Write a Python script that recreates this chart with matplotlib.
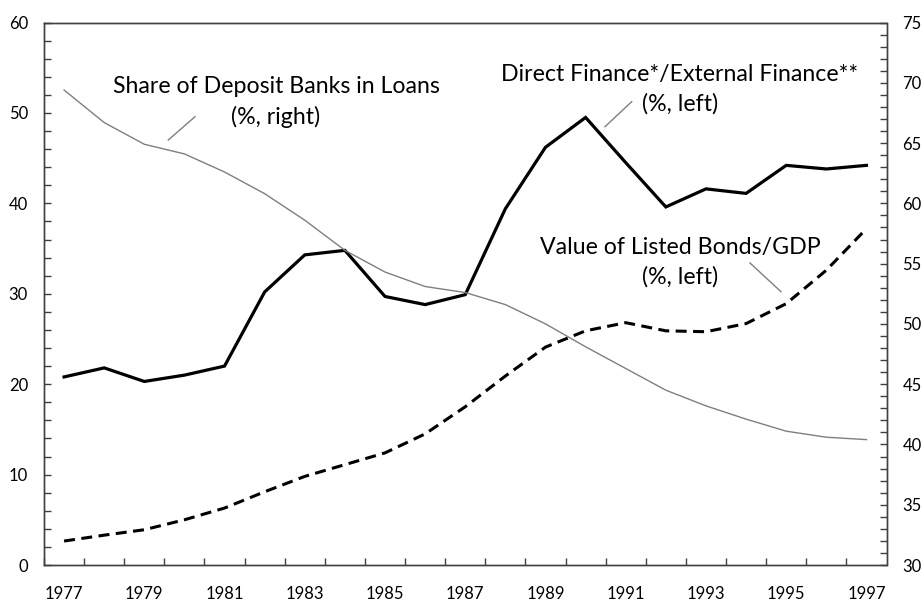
import matplotlib
matplotlib.use("Agg")
import matplotlib.pyplot as plt
from matplotlib.ticker import MultipleLocator, FixedLocator

plt.rcParams['font.family'] = ['Lato', 'DejaVu Sans']

years = list(range(1977, 1998))
direct_finance = [20.8, 21.8, 20.3, 21.0, 22.0, 30.2, 34.3, 34.8, 29.7, 28.8, 29.9,
                  39.4, 46.2, 49.5, 44.5, 39.6, 41.6, 41.1, 44.2, 43.8, 44.2]
listed_bonds = [2.65, 3.3, 3.9, 5.0, 6.3, 8.1, 9.8, 11.1, 12.4, 14.5, 17.5,
                20.9, 24.1, 25.9, 26.8, 25.9, 25.8, 26.7, 28.9, 32.6, 37.2]
deposit_share = [69.4, 66.7, 64.9, 64.1, 62.6, 60.8, 58.6, 56.1, 54.3, 53.1, 52.6,
                 51.6, 50.0, 48.1, 46.3, 44.5, 43.2, 42.1, 41.1, 40.6, 40.4]
xtick_labels = [str(y) for y in range(1977, 1998, 2)]

W, H = 921, 601
fig = plt.figure(figsize=(W / 100, H / 100), dpi=100)
ax = fig.add_axes([44 / W, (H - 565) / H, (886.5 - 44) / W, (565 - 22.5) / H])
ax2 = ax.twinx()

spine_c = '#404040'
ax.plot(years, direct_finance, color='black', lw=2.3, solid_joinstyle='miter', zorder=3)
ax.plot(years, listed_bonds, color='black', lw=2.2, ls=(0, (3.6, 2.1)), zorder=3)
ax2.plot(years, deposit_share, color='#7f7f7f', lw=1.0, zorder=2)

ax.set_xlim(1976.5, 1997.5)
ax.set_ylim(0, 60)
ax2.set_ylim(30, 75)

ax.yaxis.set_major_locator(MultipleLocator(10))
ax.yaxis.set_minor_locator(MultipleLocator(2))
ax2.yaxis.set_major_locator(MultipleLocator(5))
ax2.yaxis.set_minor_locator(MultipleLocator(1))

ax.set_xticks(range(1977, 1998, 2))
ax.set_xticklabels(xtick_labels)
ax.xaxis.set_minor_locator(FixedLocator([y + 0.5 for y in range(1976, 1997)]))

for a in (ax, ax2):
    for s in a.spines.values():
        s.set_color(spine_c)
        s.set_linewidth(1.0)

ls = 12
ax.tick_params(axis='x', which='major', length=0, pad=15, labelsize=ls, colors='black')
ax.tick_params(axis='x', which='minor', length=5, direction='in', color=spine_c, width=1)
ax.tick_params(axis='y', which='both', direction='in', length=5, color=spine_c, width=1)
ax.tick_params(axis='y', which='major', pad=11.5, labelsize=ls)
ax2.tick_params(axis='y', which='both', direction='in', length=5, color=spine_c, width=1)
ax2.tick_params(axis='y', which='major', pad=11.5, labelsize=ls)

fs = 16.7
fig.text(276 / W, 1 - 102 / H, "Share of Deposit Banks in Loans\n(%, right)",
         ha='center', va='center', fontsize=fs, linespacing=1.45)
fig.text(680 / W, 1 - 89 / H, "Direct Finance*/External Finance**\n(%, left)",
         ha='center', va='center', fontsize=fs, linespacing=1.45)
fig.text(680 / W, 1 - 262 / H, "Value of Listed Bonds/GDP\n(%, left)",
         ha='center', va='center', fontsize=fs, linespacing=1.45)

for (x1, y1, x2, y2) in [(168.3, 140, 195, 116.7), (605, 126.7, 631.7, 101.7), (750, 263, 781, 291.7)]:
    fig.add_artist(plt.Line2D([x1 / W, x2 / W], [1 - y1 / H, 1 - y2 / H], color='#7f7f7f', lw=1.0))

fig.savefig("out.png", dpi=100)
